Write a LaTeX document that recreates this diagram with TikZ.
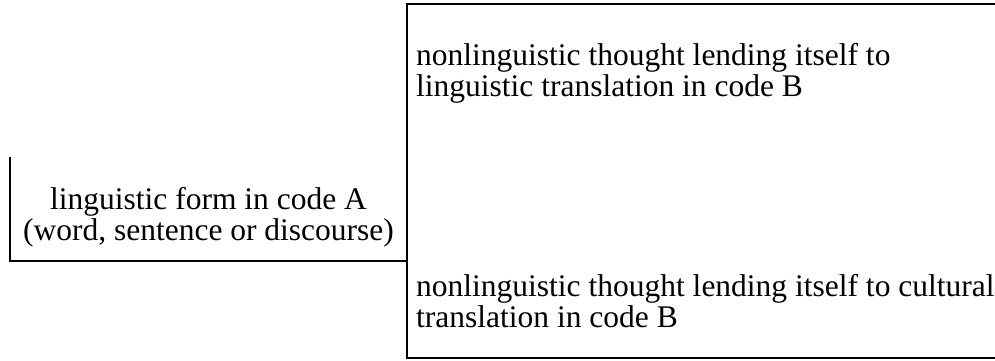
\documentclass[tikz,border=0pt]{standalone}
\usepackage{fontspec}
\setmainfont{Liberation Serif}
\begin{document}
\begin{tikzpicture}[x=1pt,y=-1pt,
  frame/.style={line width=2pt,line cap=rect},
  txt/.style={inner sep=0pt,font=\fontsize{31.5}{31}\selectfont}]
\useasboundingbox (0,0) rectangle (995,360);
\coordinate (ltop) at (10,158);
\coordinate (lbl) at (10,261);
\coordinate (lbr) at (407,261);
\coordinate (rtl) at (407,4);
\coordinate (rtr) at (996,4);
\coordinate (rbl) at (407,358);
\coordinate (rbr) at (996,358);
\draw[frame] (ltop) -- (lbl) -- (lbr);
\draw[frame] (rtr) -- (rtl) -- (rbl) -- (rbr);
\node[txt,anchor=base] (src) at (208.5,209)
  {\begin{tabular}[t]{@{}c@{}}linguistic form in code A\\(word, sentence or discourse)\end{tabular}};
\node[txt,anchor=base west] (ling) at (416,65)
  {\begin{tabular}[t]{@{}l@{}}nonlinguistic thought lending itself to\\linguistic translation in code B\end{tabular}};
\node[txt,anchor=base west] (cult) at (416,296)
  {\begin{tabular}[t]{@{}l@{}}nonlinguistic thought lending itself to cultural\\translation in code B\end{tabular}};
\end{tikzpicture}
\end{document}
